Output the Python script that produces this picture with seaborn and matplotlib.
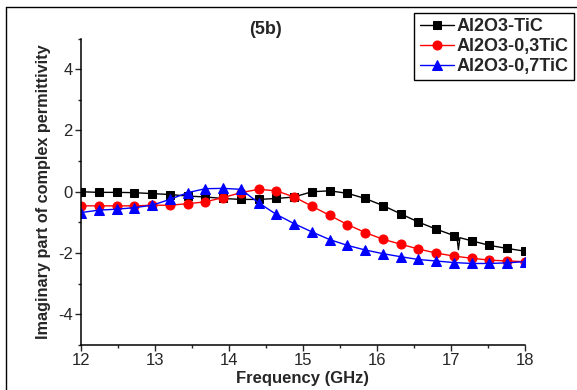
import numpy as np
import pandas as pd
import seaborn as sns
import matplotlib.pyplot as plt
from matplotlib.lines import Line2D
from matplotlib.ticker import MultipleLocator

freq = [12.00, 12.24, 12.48, 12.72, 12.96, 13.20, 13.44, 13.68, 13.92, 14.16,
        14.40, 14.64, 14.88, 15.12, 15.36, 15.60, 15.84, 16.08, 16.32, 16.56,
        16.80, 17.04, 17.28, 17.52, 17.76, 18.00]

tic = [0.00, -0.02, -0.02, -0.03, -0.06, -0.09, -0.14, -0.17, -0.22, -0.25,
       -0.25, -0.22, -0.17, 0.00, 0.03, -0.05, -0.22, -0.45, -0.72, -0.99,
       -1.22, -1.43, -1.60, -1.75, -1.85, -1.94]
tic03 = [-0.46, -0.46, -0.46, -0.46, -0.44, -0.44, -0.39, -0.33, -0.19, -0.03,
         0.08, 0.03, -0.17, -0.47, -0.77, -1.07, -1.33, -1.55, -1.71, -1.87,
         -2.00, -2.10, -2.17, -2.23, -2.26, -2.28]
tic07 = [-0.68, -0.60, -0.57, -0.52, -0.44, -0.25, -0.03, 0.10, 0.11, 0.08,
         -0.36, -0.74, -1.04, -1.31, -1.56, -1.75, -1.90, -2.02, -2.12, -2.21,
         -2.26, -2.31, -2.34, -2.34, -2.32, -2.28]

# small spike in the black curve near 17.1 GHz
spike_x = [17.08, 17.10, 17.12]
spike_y = [-1.47, -1.89, -1.50]

sns.set_style("ticks")
plt.rcParams['font.family'] = ['Liberation Sans', 'DejaVu Sans']
plt.rcParams['axes.unicode_minus'] = False

fig = plt.figure(figsize=(5.77, 3.90), dpi=100)
ax = fig.add_axes([81 / 577, 45 / 390, 444 / 577, 306.5 / 390])

black = pd.DataFrame({'f': freq + spike_x, 'v': tic + spike_y}).sort_values('f')
marks = [i for i, f in enumerate(black['f']) if f not in spike_x]
sns.lineplot(data=black, x='f', y='v', ax=ax, color='black', marker='s',
             markersize=5.5, markeredgecolor='black', linewidth=1,
             markevery=marks, label='Al2O3-TiC', sort=False)
sns.lineplot(x=freq, y=tic03, ax=ax, color='red', marker='o', markersize=6.5,
             markeredgecolor='red', linewidth=1, label='Al2O3-0,3TiC')
sns.lineplot(x=freq, y=tic07, ax=ax, color='blue', marker='^', markersize=6.5,
             markeredgecolor='blue', linewidth=1, label='Al2O3-0,7TiC')

ax.set_xlim(12, 18)
ax.set_ylim(-5, 5)
ax.set_yticks([-4, -2, 0, 2, 4])
ax.xaxis.set_minor_locator(MultipleLocator(0.5))
ax.yaxis.set_minor_locator(MultipleLocator(1))
ax.tick_params(which='major', direction='out', length=4, width=1, labelsize=12, pad=2)
ax.tick_params(which='minor', direction='out', length=2.5, width=1)
for s in ['left', 'bottom']:
    ax.spines[s].set_linewidth(1.1)
    ax.spines[s].set_color('black')
sns.despine(ax=ax)

ax.set_xlabel('Frequency (GHz)', fontsize=12, fontweight='bold', labelpad=2)
ax.set_ylabel('Imaginary part of complex permittivity', fontsize=11.7,
              fontweight='bold', labelpad=5)

fig.text(266 / 577, 1 - 30 / 390, '(5b)', fontsize=13, fontweight='bold',
         ha='center', va='center')

leg = ax.legend(loc='upper right', bbox_to_anchor=(574 / 577, 1 - 13 / 390),
                bbox_transform=fig.transFigure, fancybox=False, frameon=True,
                edgecolor='black', framealpha=1, handlelength=1.9,
                borderpad=0.3, labelspacing=0.15, handletextpad=0.15,
                borderaxespad=0, prop={'weight': 'bold', 'size': 13})
leg.get_frame().set_linewidth(1)

# outer border of the original figure
fig.add_artist(Line2D([6 / 577, 6 / 577], [0, 1 - 7 / 390], color='black', lw=1))
fig.add_artist(Line2D([6 / 577, 1], [1 - 7 / 390, 1 - 7 / 390], color='black', lw=1))

fig.savefig('out.png', dpi=100)
